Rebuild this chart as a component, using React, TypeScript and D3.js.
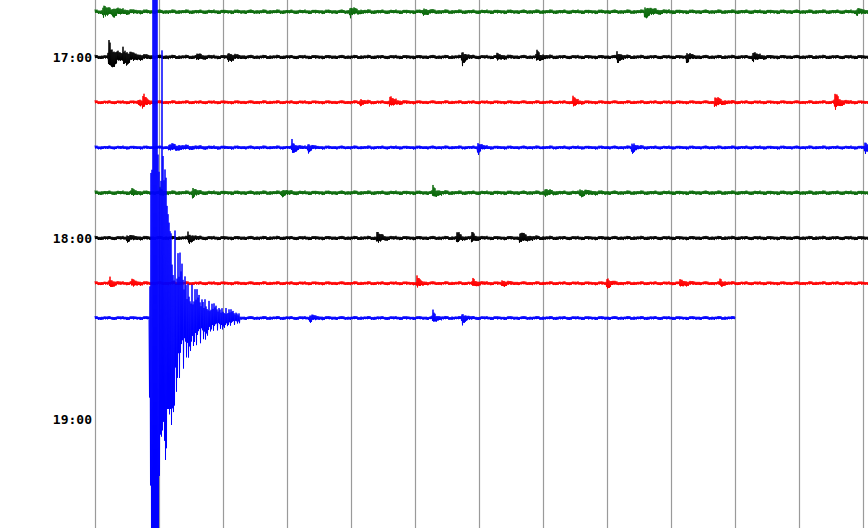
import React from "react";
import * as d3 from "d3";

const WIDTH = 868;
const HEIGHT = 528;

// Helicorder rows: start hour of each 15-minute line
const ROW_START_HOURS = [16.75, 17, 17.25, 17.5, 17.75, 18, 18.25, 18.5];
const ROW_COLORS = ["#0a6a0a", "#000000", "#ff0000", "#0000ff", "#0a6a0a", "#000000", "#ff0000", "#0000ff"];
// minutes of data recorded on each row
const ROW_END_MINUTES = [15.2, 15.2, 15.2, 15.2, 15.2, 15.2, 15.2, 12.5];
// background noise level (amplitude units) per row
const ROW_NOISE = [2.3, 2.2, 2.0, 2.0, 2.3, 2.2, 2.0, 2.0];
// baseline shift (amplitude units, upward positive)
const ROW_OFFSET = [0, 0, 0, 0, 0, 0, 0, 10.5];

// small local events per row: [minute, amplitude, decay (min)]
const ROW_EVENTS: [number, number, number][][] = [
  [[0.16, 7, 0.12], [0.35, 3, 0.2], [4.98, 5, 0.1], [6.41, 3, 0.1], [10.74, 6, 0.15], [14.88, 3, 0.1]],
  [[0.27, 17, 0.15], [0.55, 7, 0.2], [1.99, 3, 0.1], [2.6, 5, 0.1], [7.17, 9, 0.06], [7.85, 3, 0.1], [8.63, 6, 0.08], [10.2, 7, 0.06], [11.56, 6, 0.06], [12.85, 5, 0.1]],
  [[0.85, 3, 0.1], [0.94, 9, 0.05], [5.18, 3, 0.08], [5.76, 6, 0.1], [9.34, 7, 0.06], [12.11, 6, 0.1], [14.45, 11, 0.08]],
  [[1.45, 3, 0.3], [3.85, 9, 0.06], [4.16, 5, 0.06], [7.48, 7, 0.06], [10.49, 7, 0.06], [15.04, 8, 0.06]],
  [[0.72, 4, 0.06], [1.27, 4, 0.05], [1.91, 6, 0.06], [3.65, 3, 0.1], [6.6, 6, 0.08], [8.79, 4, 0.08], [9.47, 3, 0.15]],
  [[0.63, 3, 0.1], [1.82, 6, 0.08], [5.51, 7, 0.08], [7.07, 8, 0.05], [7.36, 6, 0.06], [8.3, 6, 0.12]],
  [[0.29, 6, 0.06], [0.72, 4, 0.08], [6.29, 7, 0.06], [7.38, 4, 0.08], [7.95, 3, 0.08], [10.0, 7, 0.06], [11.43, 4, 0.1], [12.21, 4, 0.06]],
  [[4.2, 4, 0.08], [6.6, 7, 0.06], [7.17, 7, 0.06]],
];

// the large earthquake on the 18:30 row: envelope above / below baseline
const QUAKE_ROW = 7;
const QUAKE_MINUTES = [1.055, 1.074, 1.094, 1.113, 1.133, 1.211, 1.23, 1.25, 1.27, 1.289, 1.309, 1.328, 1.348, 1.367, 1.387, 1.406, 1.426, 1.465, 1.504, 1.563, 1.621, 1.68, 1.738, 1.797, 1.855, 1.953, 2.051, 2.148, 2.246, 2.344, 2.441, 2.598, 2.734, 2.832];
const QUAKE_UP = [4, 60, 170, 170, 340, 340, 170, 170, 150, 150, 268, 160, 160, 163, 163, 130, 120, 100, 95, 90, 70, 60, 55, 40, 35, 30, 22, 20, 15, 12, 10, 8, 5, 3];
const QUAKE_DOWN = [4, 160, 230, 230, 230, 230, 230, 230, 135, 135, 140, 120, 120, 165, 165, 105, 105, 105, 105, 100, 80, 57, 50, 40, 35, 32, 25, 20, 15, 12, 10, 8, 5, 3];

const HOUR_VALUES = [17, 18, 19];
const HOUR_LABELS = ["17:00", "18:00", "19:00"];
const GRID_MINUTES = [0, 1.25, 2.5, 3.75, 5, 6.25, 7.5, 8.75, 10, 11.25, 12.5, 13.75, 15];

// trace texture multipliers (drawing style)
const WIGGLE_A = [1, 0.6, 0.9, 0.55, 0.95, 0.75, 0.5, 0.9, 0.65, 0.8, 0.5, 0.95, 0.7];
const WIGGLE_B = [1, 0.8, 0.9, 0.7, 0.95, 0.75, 0.85];
const WIGGLE_QUAKE = [1, 0.55, 0.75, 0.45, 0.9, 0.4, 0.65, 0.95, 0.5, 0.4, 0.8, 0.5, 0.7, 0.9, 0.45, 0.6, 0.85];

const x = d3.scaleLinear().domain([0, 15]).range([95, 863]);
const y = d3.scaleLinear().domain([17, 18]).range([57, 238]);
const amp = d3.scaleLinear().domain([-100, 100]).range([100, -100]);

const quakeUp = d3.scaleLinear().domain(QUAKE_MINUTES).range(QUAKE_UP).clamp(true);
const quakeDown = d3.scaleLinear().domain(QUAKE_MINUTES).range(QUAKE_DOWN).clamp(true);

function envelope(r: number, t: number): number {
  let e = ROW_NOISE[r];
  for (const [t0, a, d] of ROW_EVENTS[r]) {
    if (t >= t0) e += a * Math.exp(-(t - t0) / d);
    else if (t > t0 - 0.02) e += a * (1 - (t0 - t) / 0.02);
  }
  return e;
}

function buildTrace(r: number): [number, number][] {
  const step = 15 / 1536;
  const n = Math.floor(ROW_END_MINUTES[r] / step);
  const pts: [number, number][] = [];
  const q0 = QUAKE_MINUTES[0];
  const q1 = QUAKE_MINUTES[QUAKE_MINUTES.length - 1];
  for (let i = 0; i <= n; i++) {
    const t = i * step;
    const sign = i % 2 === 0 ? 1 : -1;
    let m = WIGGLE_A[i % WIGGLE_A.length] * WIGGLE_B[i % WIGGLE_B.length];
    let e = envelope(r, t);
    if (r === QUAKE_ROW && t >= q0 && t <= q1) {
      const qe = sign > 0 ? quakeUp(t) : quakeDown(t);
      e += qe;
      m = qe > 100 ? Math.max(0.85, WIGGLE_QUAKE[i % WIGGLE_QUAKE.length]) : WIGGLE_QUAKE[i % WIGGLE_QUAKE.length];
      if (qe > 200) m = 1;
    }
    pts.push([t, ROW_OFFSET[r] + sign * e * m]);
  }
  return pts;
}

export default function App() {
  const traces = ROW_START_HOURS.map((h, r) => {
    const base = y(h);
    const line = d3
      .line<[number, number]>()
      .x((d) => x(d[0]))
      .y((d) => base + amp(d[1]));
    return { path: line(buildTrace(r)) || "", color: ROW_COLORS[r] };
  });

  return (
    <svg
      width={WIDTH}
      height={HEIGHT}
      style={{ position: "absolute", left: 0, top: 0, background: "#ffffff", overflow: "hidden" }}
    >
      <rect x={0} y={0} width={WIDTH} height={HEIGHT} fill="#ffffff" />
      {GRID_MINUTES.map((g) => (
        <line
          key={g}
          x1={Math.round(x(g)) + 0.5}
          x2={Math.round(x(g)) + 0.5}
          y1={0}
          y2={HEIGHT}
          stroke="#9a9a9a"
          strokeWidth={1.2}
        />
      ))}
      {HOUR_VALUES.map((h, i) => (
        <text
          key={h}
          x={92}
          y={y(h)}
          dy="0.35em"
          textAnchor="end"
          fontFamily="'DejaVu Sans Mono', monospace"
          fontWeight="bold"
          fontSize={13}
          fill="#000"
        >
          {HOUR_LABELS[i]}
        </text>
      ))}
      {traces.map((tr, i) => (
        <path key={i} d={tr.path} fill="none" stroke={tr.color} strokeWidth={1} />
      ))}
    </svg>
  );
}
